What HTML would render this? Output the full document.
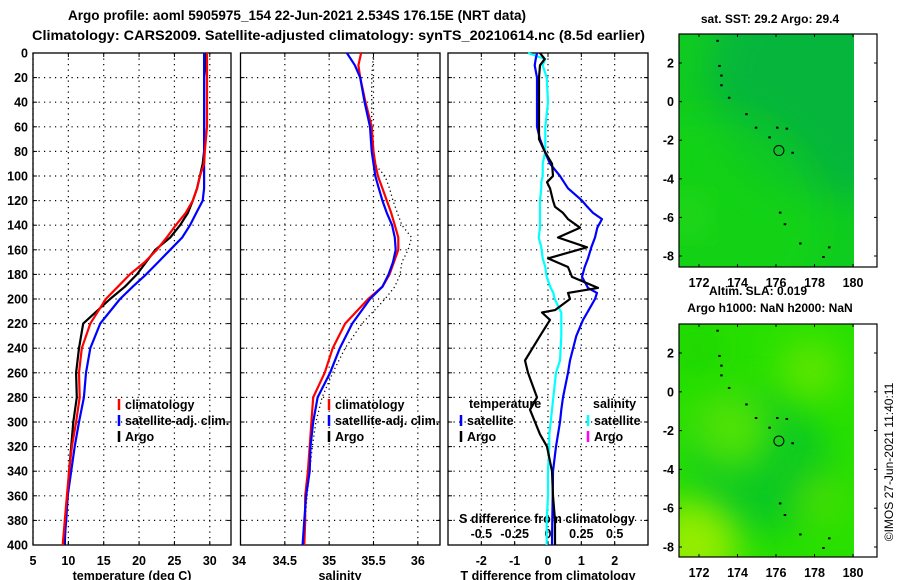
<!DOCTYPE html>
<html><head><meta charset="utf-8">
<style>
body{margin:0;background:#fff;}
svg{display:block;font-family:"Liberation Sans",sans-serif;font-weight:bold;}
</style></head>
<body>
<svg id="c" width="900" height="580" viewBox="0 0 900 580">
<text x="68" y="20" font-size="13.5" textLength="458" lengthAdjust="spacingAndGlyphs">Argo profile: aoml 5905975_154 22-Jun-2021 2.534S 176.15E (NRT data)</text>
<text x="32" y="40" font-size="14" textLength="613" lengthAdjust="spacingAndGlyphs">Climatology: CARS2009. Satellite-adjusted climatology: synTS_20210614.nc (8.5d earlier)</text>
<text x="770" y="23" font-size="12" text-anchor="middle">sat. SST: 29.2 Argo: 29.4</text>
<text x="758" y="295" font-size="12" text-anchor="middle">Altim. SLA: 0.019</text>
<text x="770" y="312" font-size="12" text-anchor="middle">Argo h1000: NaN h2000: NaN</text>
<text transform="translate(893,462) rotate(-90)" font-size="12" font-weight="normal" text-anchor="middle">©IMOS 27-Jun-2021 11:40:11</text>
</svg>
<script>
// ---- data ----
const depths = [0,10,20,40,60,80,90,100,110,120,130,140,150,160,170,180,190,200,220,240,260,280,300,320,340,360,380,400];
const tempClim = [29.6,29.6,29.6,29.6,29.6,29.3,29.2,28.6,28.2,27.6,26.6,25.2,23.9,22.5,20.8,18.7,17.0,15.3,13.1,11.9,11.5,11.6,11.1,10.5,10.1,9.8,9.5,9.2];
const tempSat = [29.2,29.2,29.2,29.2,29.2,29.2,29.2,29.2,29.2,29.0,28.1,27.2,26.1,24.4,22.7,21.0,19.1,17.3,14.5,13.1,12.5,12.2,11.5,10.9,10.4,9.9,9.7,9.4];
const tempArgo = [29.3,29.4,29.2,29.2,29.2,29.2,29.0,28.6,28.2,27.6,26.9,25.8,24.4,22.3,21.0,19.7,18.0,15.9,12.1,11.5,11.1,11.2,10.7,10.4,10.1,9.9,9.6,9.5];
const salClim = [35.36,35.33,35.35,35.41,35.48,35.50,35.52,35.55,35.60,35.65,35.70,35.74,35.78,35.78,35.73,35.68,35.60,35.44,35.18,35.04,34.95,34.82,34.80,34.78,34.76,34.73,34.73,34.72];
const salSat = [35.20,35.29,35.35,35.40,35.46,35.48,35.50,35.52,35.56,35.60,35.65,35.71,35.74,35.75,35.72,35.67,35.60,35.46,35.26,35.12,35.01,34.87,34.82,34.79,34.78,34.74,34.72,34.70];
const salArgo = [35.50,35.49,35.48,35.48,35.48,35.48,35.51,35.63,35.68,35.72,35.77,35.82,35.93,35.89,35.82,35.80,35.74,35.63,35.37,35.18,35.04,34.92,34.85,34.81,34.78,34.75,34.73,34.72];
const diffDepths = [0,5,10,20,40,60,70,80,90,100,105,110,120,125,130,135,142,150,158,167,174,182,191,195,200,209,211,217,230,250,260,280,290,300,310,320,340,360,380,400];
const tDiffSat = [-0.33,-0.37,-0.40,-0.33,-0.33,-0.33,-0.24,-0.10,0.06,0.36,0.48,0.60,1.02,1.18,1.35,1.62,1.48,1.41,1.30,1.20,1.10,1.02,1.20,1.47,1.41,1.22,1.18,1.05,0.85,0.66,0.60,0.45,0.40,0.36,0.30,0.24,0.15,0.14,0.13,0.12];
const tDiffArgo = [-0.24,-0.10,-0.24,-0.27,-0.27,-0.27,-0.27,-0.10,0.12,0.15,-0.03,0.06,0.15,0.21,0.45,0.60,0.96,0.30,1.17,0.00,0.60,0.72,1.50,0.60,0.66,0.21,-0.18,0.06,-0.24,-0.69,-0.60,-0.33,-0.54,-0.39,-0.24,-0.03,0.12,0.15,0.21,0.21];
const sDiffSat = [-0.15,-0.02,-0.04,-0.01,0.00,-0.02,-0.02,-0.02,-0.04,-0.04,-0.05,-0.05,-0.06,-0.06,-0.06,-0.06,-0.06,-0.07,-0.05,-0.04,-0.02,-0.01,0.02,0.04,0.05,0.09,0.10,0.10,0.10,0.09,0.06,0.04,0.03,0.02,0.01,0.01,0.00,0.00,-0.01,-0.01];
const depthTicks = [0,20,40,60,80,100,120,140,160,180,200,220,240,260,280,300,320,340,360,380,400];
const tempTicks = [5,10,15,20,25,30];
const salTicks = [34.5,35,35.5,36];
const salTickLabels = ['34','34.5','35','35.5','36'];
const tDiffTicks = [-2,-1,0,1,2];
const sDiffTickLabels = ['-0.5','-0.25','0','0.25','0.5'];
const sDiffTicks = [-0.5,-0.25,0,0.25,0.5];
const latTicks = [2,0,-2,-4,-6,-8];
const lonTicks = [172,174,176,178,180];
const floatLon = 176.15, floatLat = -2.534;

// ---- helpers ----
const svg = document.getElementById('c');
const NS = 'http://www.w3.org/2000/svg';
function mk(tag, attrs, parent){const e=document.createElementNS(NS,tag);for(const k in attrs)e.setAttribute(k,attrs[k]);(parent||svg).appendChild(e);return e;}
const Y0=53, Y1=545;
const yD = d => Y0 + (Y1-Y0)*d/400;

const panels = [
 {name:'temperature', x0:33, x1:231, lo:5, hi:33},
 {name:'salinity', x0:240.5, x1:440, lo:34, hi:36.25},
 {name:'difference', x0:448, x1:648, lo:-3, hi:3}
];
function sx(p,v){return p.x0+(p.x1-p.x0)*(v-p.lo)/(p.hi-p.lo);}

panels.forEach((p,pi)=>{
  const g=mk('g',{});
  
  
  depthTicks.forEach(d=>{
    const y=yD(d);
    if(d>0&&d<400){
      const l=mk('line',{x1:p.x0,x2:p.x1,y1:y,y2:y,stroke:'#000','stroke-width':1.2,'stroke-dasharray':'1.2 4.3'},g);
      
      
    }
    mk('line',{x1:p.x0,x2:p.x0+4,y1:y,y2:y,stroke:'#000'},g);
    mk('line',{x1:p.x1,x2:p.x1-4,y1:y,y2:y,stroke:'#000'},g);
    if(pi===0){
      const t=mk('text',{x:28,y:y+4.5,'font-size':12.5,'text-anchor':'end'},g);
      t.textContent=d;
      
      
    }
  });
  const r=mk('rect',{x:p.x0,y:Y0,width:p.x1-p.x0,height:Y1-Y0,fill:'none',stroke:'#000','stroke-width':1.3},g);
  
  
});

function vgrid(p,vals){vals.forEach(v=>{const x=sx(p,v);
  const l=mk('line',{x1:x,x2:x,y1:Y0,y2:Y1,stroke:'#000','stroke-width':1.2,'stroke-dasharray':'1.2 4.3'});
  
  
  mk('line',{x1:x,x2:x,y1:Y1,y2:Y1-4,stroke:'#000'});mk('line',{x1:x,x2:x,y1:Y0,y2:Y0+4,stroke:'#000'});});}
function xlabels(p,vals,labels,y){vals.forEach((v,i)=>{const t=mk('text',{x:sx(p,v),y:y,'font-size':12.5,'text-anchor':'middle'});t.textContent=labels?labels[i]:v;
  
  });}
vgrid(panels[0],tempTicks);
xlabels(panels[0],tempTicks,null,565);
(function(){const t=mk('text',{x:239,y:565,'font-size':12.5,'text-anchor':'middle'});t.textContent='34';})();
vgrid(panels[1],salTicks);
xlabels(panels[1],salTicks,salTickLabels.slice(1),565);
vgrid(panels[2],tDiffTicks);
xlabels(panels[2],tDiffTicks,null,565);
sDiffTicks.forEach((v,i)=>{const t=mk('text',{x:548+133.3*v,y:538,'font-size':12.5,'text-anchor':'middle'});t.textContent=sDiffTickLabels[i];
  
  });
function label(x,y,txt,name,anchor){const t=mk('text',{x:x,y:y,'font-size':12.5,'text-anchor':anchor||'middle'});t.textContent=txt;
  
  return t;}
label(132,580,'temperature (deg C)','temperature-axis-title');
label(340,580,'salinity','salinity-axis-title');
label(548,580,'T difference from climatology','t-diff-axis-title');
label(547,523,'S difference from climatology','s-diff-axis-title');

function line(p,vals,ds,color,name,dash,scale){
  const pts=vals.map((v,i)=>{const x=scale?scale(v):sx(p,v);return x.toFixed(1)+','+yD(ds[i]).toFixed(1);}).join(' ');
  const a={points:pts,fill:'none',stroke:color,'stroke-width':dash?1.3:2.2,'stroke-linejoin':'round'};
  if(dash)a['stroke-dasharray']=dash;
  const e=mk('polyline',a);
  
  
}
line(panels[0],tempArgo,depths,'#000','temp-argo-line');
line(panels[0],tempSat,depths,'#0000ff','temp-satellite-line');
line(panels[0],tempClim,depths,'#ff0000','temp-climatology-line');
line(panels[1],salArgo,depths,'#000','sal-argo-line','1.2 3');
line(panels[1],salClim,depths,'#ff0000','sal-climatology-line');
line(panels[1],salSat,depths,'#0000ff','sal-satellite-line');
const sScale = v => 548+133.3*v;
line(panels[2],sDiffSat,diffDepths,'#00ffff','s-diff-satellite-line',null,sScale);
line(panels[2],tDiffSat,diffDepths,'#0000ff','t-diff-satellite-line');
line(panels[2],tDiffArgo,diffDepths,'#000','t-diff-argo-line');

function legendEntry(x,y,color,txt,name){
  const g=mk('g',{});
  
  
  mk('line',{x1:x,x2:x,y1:y-10,y2:y+1,stroke:color,'stroke-width':2.5},g);
  const t=mk('text',{x:x+6,y:y,'font-size':12.5},g);t.textContent=txt;
}
legendEntry(119,409,'#ff0000','climatology','legend-climatology');
legendEntry(119,425,'#0000ff','satellite-adj. clim.','legend-satellite');
legendEntry(119,441,'#000','Argo','legend-argo');
legendEntry(329,409,'#ff0000','climatology','legend-sal-climatology');
legendEntry(329,425,'#0000ff','satellite-adj. clim.','legend-sal-satellite');
legendEntry(329,441,'#000','Argo','legend-sal-argo');
label(469,408,'temperature','legend-temperature-heading','start');
legendEntry(461,425,'#0000ff','satellite','legend-t-satellite');
legendEntry(461,441,'#000','Argo','legend-t-argo');
label(593,408,'salinity','legend-salinity-heading','start');
legendEntry(588,425,'#00ffff','satellite','legend-s-satellite');
legendEntry(588,441,'#ff00ff','Argo','legend-s-argo');

// ---- maps ----
const maps=[{name:'sst-map',y0:34,y1:267,yt2:63,yt8:256,base:'#10cc20',blobs:[[0.85,0.2,120,'#00a850',0.6],[0.2,0.8,110,'#18d810',0.5],[0.05,0.78,15,'#40e020',0.8]]},
            {name:'sla-map',y0:324,y1:557,yt2:353,yt8:547,base:'#28e000',blobs:[[0.45,0.6,70,'#00c030',0.7],[0.3,0.45,40,'#60e800',0.8],[0.75,0.2,30,'#70e800',0.8],[0.08,0.95,45,'#b0f000',0.8],[0.8,0.75,25,'#60e000',0.7],[0.1,0.1,30,'#18d000',0.6]]}];
const MX0=679, MX1=877, GX1=854;
const lonX = lon => 699 + (lon-172)*154/8;
maps.forEach((m,mi)=>{
  const latY = lat => m.yt2 + (2-lat)*(m.yt8-m.yt2)/10;
  const g=mk('g',{});
  
  
  const defs=mk('defs',{},g);
  const f=mk('filter',{id:'bl'+mi,x:'-50%',y:'-50%',width:'200%',height:'200%'},defs);
  mk('feGaussianBlur',{stdDeviation:18},f);
  const cp=mk('clipPath',{id:'cp'+mi},defs);
  mk('rect',{x:MX0,y:m.y0,width:GX1-MX0,height:m.y1-m.y0},cp);
  const cg=mk('g',{'clip-path':'url(#cp'+mi+')'},g);
  mk('rect',{x:MX0,y:m.y0,width:GX1-MX0,height:m.y1-m.y0,fill:m.base},cg);
  m.blobs.forEach(b=>{mk('circle',{cx:MX0+b[0]*(GX1-MX0),cy:m.y0+b[1]*(m.y1-m.y0),r:b[2],fill:b[3],opacity:b[4],filter:'url(#bl'+mi+')'},cg);});
  const islands=[[172.9,3.2],[173.0,1.9],[173.1,1.4],[173.1,0.9],[173.5,0.25],[174.4,-0.6],[174.9,-1.3],[175.6,-1.8],[176.0,-1.3],[176.5,-1.35],[176.8,-2.6],[176.15,-5.7],[176.4,-6.3],[177.2,-7.3],[178.4,-8.0],[178.7,-7.5]];
  islands.forEach(s=>mk('rect',{x:lonX(s[0]),y:latY(s[1]),width:2.5,height:2,fill:'#000'},cg));
  const c=mk('circle',{cx:lonX(floatLon),cy:latY(floatLat),r:5,fill:'none',stroke:'#000','stroke-width':1});
  
  
  mk('rect',{x:MX0,y:m.y0,width:MX1-MX0,height:m.y1-m.y0,fill:'none',stroke:'#000','stroke-width':1.2},g);
  latTicks.forEach(lat=>{const y=latY(lat);mk('line',{x1:MX0,x2:MX0+3,y1:y,y2:y,stroke:'#000'},g);mk('line',{x1:MX1,x2:MX1-3,y1:y,y2:y,stroke:'#000'},g);
    const t=mk('text',{x:674,y:y+4.5,'font-size':12.5,'text-anchor':'end'},g);t.textContent=lat;
    
    });
  lonTicks.forEach(lon=>{const x=lonX(lon);mk('line',{x1:x,x2:x,y1:m.y0,y2:m.y0+3,stroke:'#000'},g);mk('line',{x1:x,x2:x,y1:m.y1,y2:m.y1-3,stroke:'#000'},g);
    const t=mk('text',{x:x,y:m.y1+20,'font-size':12.5,'text-anchor':'middle'},g);t.textContent=lon;
    
    });
});
</script>
</body></html>
